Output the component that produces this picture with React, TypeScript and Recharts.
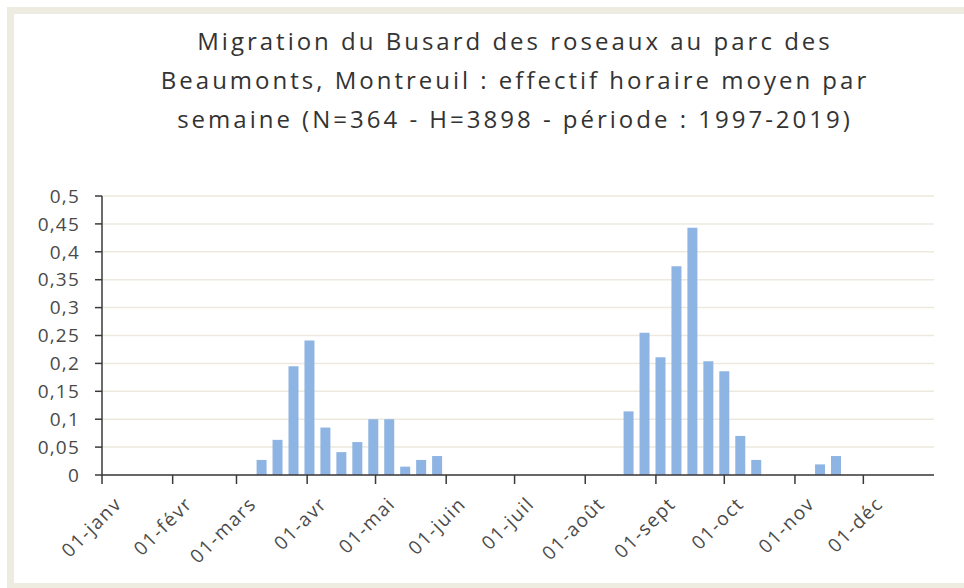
import React from "react";
import { Bar, BarChart, CartesianGrid, XAxis, YAxis } from "recharts";

// weekly windows, given as day-of-year of the week start
const weekStart = [70, 77, 84, 91, 98, 105, 112, 119, 126, 133, 140, 147, 231, 238, 245, 252, 259, 266, 273, 280, 287, 315, 322];
const hourlyMean = [0.027, 0.063, 0.195, 0.241, 0.085, 0.041, 0.059, 0.1, 0.1, 0.015, 0.027, 0.034, 0.114, 0.255, 0.211, 0.374, 0.443, 0.204, 0.186, 0.07, 0.027, 0.019, 0.034];

const monthDays = [0, 31, 59, 90, 120, 151, 181, 212, 243, 273, 304, 334];
const monthLabels = ["01-janv", "01-févr", "01-mars", "01-avr", "01-mai", "01-juin", "01-juil", "01-août", "01-sept", "01-oct", "01-nov", "01-déc"];
const yTicks = [0, 0.05, 0.1, 0.15, 0.2, 0.25, 0.3, 0.35, 0.4, 0.45, 0.5];

const titleLines = [
  "Migration du Busard des roseaux au parc des",
  "Beaumonts, Montreuil : effectif horaire moyen par",
  "semaine (N=364 - H=3898 - période : 1997-2019)",
];

const data = weekStart.map((day, i) => ({ day, value: hourlyMean[i] }));

const FONT = "'Open Sans', sans-serif";

function MonthTick({ x, y, payload }: any) {
  const idx = monthDays.indexOf(payload.value);
  return (
    <g transform={`translate(${x},${y})`}>
      <text
        x={0}
        y={0}
        textAnchor="end"
        transform="translate(21,19) rotate(-45)"
        fill="#4a4a4a"
        fontSize={19}
        fontFamily={FONT}
        letterSpacing={1.6}
      >
        {monthLabels[idx]}
      </text>
    </g>
  );
}

export default function App() {
  return (
    <div style={{ position: "absolute", left: 0, top: 0, width: 964, height: 588, overflow: "hidden", background: "#fff" }}>
      <div
        style={{
          position: "absolute",
          left: 7,
          top: 7,
          width: 980,
          height: 583,
          boxSizing: "border-box",
          border: "7px solid #EEEBE1",
          background: "#fff",
        }}
      />
      <div
        style={{
          position: "absolute",
          left: 115,
          top: 21,
          width: 800,
          textAlign: "center",
          fontFamily: FONT,
          fontSize: 24,
          lineHeight: "39px",
          letterSpacing: 3,
          color: "#333333",
        }}
      >
        {titleLines.map((t) => (
          <div key={t}>{t}</div>
        ))}
      </div>
      <div style={{ position: "absolute", left: 0, top: 0 }}>
        <BarChart width={964} height={588} data={data} margin={{ top: 196, right: 30, left: 0, bottom: 53 }}>
          <CartesianGrid vertical={false} stroke="#EDE9DE" strokeWidth={1.5} />
          <XAxis
            dataKey="day"
            type="number"
            domain={[0, 365]}
            ticks={monthDays}
            interval={0}
            height={60}
            tickSize={9}
            axisLine={{ stroke: "#3a3a3a", strokeWidth: 1.5 }}
            tickLine={{ stroke: "#3a3a3a", strokeWidth: 1.5 }}
            tick={<MonthTick />}
          />
          <YAxis
            width={102}
            domain={[0, 0.5]}
            ticks={yTicks}
            interval={0}
            tickSize={7}
            tickMargin={15}
            axisLine={{ stroke: "#3a3a3a", strokeWidth: 1.5 }}
            tickLine={{ stroke: "#3a3a3a", strokeWidth: 1.5 }}
            tick={{ fill: "#4a4a4a", fontSize: 19, fontFamily: FONT, letterSpacing: 1.2 }}
            tickFormatter={(v: number) => String(v).replace(".", ",")}
          />
          <Bar dataKey="value" fill="#8EB4E3" barSize={10} isAnimationActive={false} />
        </BarChart>
      </div>
    </div>
  );
}
